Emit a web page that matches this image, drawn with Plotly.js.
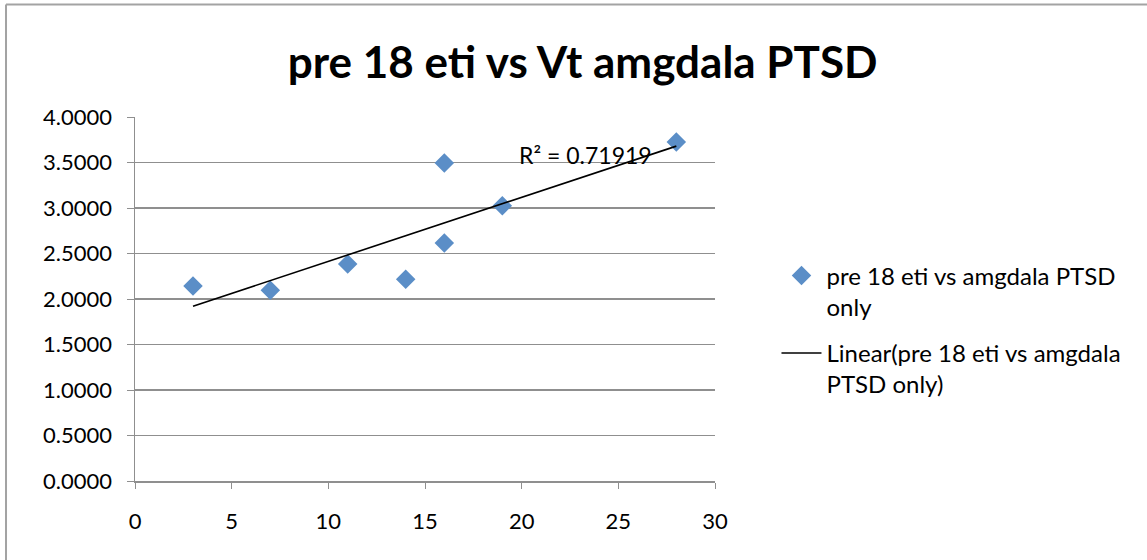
<!DOCTYPE html>
<html>
<head>
<meta charset="utf-8">
<script src="https://cdn.plot.ly/plotly-3.0.1.min.js"></script>
<style>html,body{margin:0;padding:0;background:#fff;} #chart{width:1147px;height:560px;}</style>
</head>
<body>
<div id="chart"></div>
<script>
// Data
const xValues = [3, 7, 11, 14, 16, 16, 19, 28];
const yValues = [2.143, 2.096, 2.385, 2.216, 3.495, 2.615, 3.025, 3.725];
const seriesName = 'pre 18 eti vs amgdala PTSD<br>only';
const trendName = 'Linear(pre 18 eti vs amgdala<br>PTSD only)';
const r2Label = 'R² = 0.71919';
const chartTitle = 'pre 18 eti vs Vt amgdala PTSD';
const yTickVals = [0, 0.5, 1, 1.5, 2, 2.5, 3, 3.5, 4];
const xTickVals = [0, 5, 10, 15, 20, 25, 30];

// Least-squares linear trend line computed from the data
const n = xValues.length;
const mx = xValues.reduce((a, b) => a + b, 0) / n;
const my = yValues.reduce((a, b) => a + b, 0) / n;
let sxy = 0, sxx = 0;
for (let i = 0; i < n; i++) { sxy += (xValues[i] - mx) * (yValues[i] - my); sxx += (xValues[i] - mx) ** 2; }
const slope = sxy / sxx, intercept = my - slope * mx;
const xMin = Math.min(...xValues), xMax = Math.max(...xValues);
const trendX = [xMin, xMax];
const trendY = trendX.map(x => intercept + slope * x);

const font = 'Lato, "Open Sans", sans-serif';
const gridColor = '#8f8f8f';

const traces = [
  {
    x: xValues, y: yValues, type: 'scatter', mode: 'markers', name: seriesName, legendgroup: 'a',
    marker: {symbol: 'diamond', size: 15, color: '#5b8ec7'}
  },
  {
    x: trendX, y: trendY, type: 'scatter', mode: 'lines', name: trendName, legendgroup: 'b',
    line: {color: '#000000', width: 1.6}
  }
];

const layout = {
  width: 1147, height: 560,
  margin: {l: 135, r: 432, t: 117, b: 79},
  paper_bgcolor: '#ffffff', plot_bgcolor: '#ffffff',
  showlegend: true,
  title: {
    text: '<b>' + chartTitle + '</b>',
    font: {family: font, size: 44, color: '#000'},
    xref: 'container', x: 0.508, xanchor: 'center',
    yref: 'container', y: 0.889, yanchor: 'middle'
  },
  xaxis: {
    range: [0, 30], tickvals: xTickVals, ticks: 'outside', ticklen: 6, tickcolor: gridColor,
    showgrid: false, zeroline: false, showline: true, linecolor: gridColor, linewidth: 1.5,
    tickfont: {family: font, size: 22, color: '#000'}, ticklabelstandoff: 14
  },
  yaxis: {
    range: [0, 4], tickvals: yTickVals, tickformat: '.4f', ticks: 'outside', ticklen: 7, tickcolor: gridColor,
    showgrid: true, gridcolor: gridColor, gridwidth: 1.5, zeroline: false,
    showline: true, linecolor: gridColor, linewidth: 1.5,
    tickfont: {family: font, size: 22, color: '#000'}, ticklabelstandoff: 10
  },
  legend: {
    x: 1.106, xanchor: 'left', y: 0.415, yanchor: 'middle', valign: 'top',
    font: {family: font, size: 24, color: '#000'},
    itemwidth: 40, tracegroupgap: 12, bgcolor: 'rgba(0,0,0,0)'
  },
  annotations: [{
    text: r2Label, x: 23.3, y: 3.58, xref: 'x', yref: 'y', showarrow: false,
    font: {family: font, size: 23, color: '#000'}
  }],
  shapes: [
    {type: 'line', xref: 'paper', yref: 'paper', x0: -0.2224, x1: 2.0, y0: 1.309, y1: 1.309, line: {color: '#a3a3a3', width: 2}},
    {type: 'line', xref: 'paper', yref: 'paper', x0: -0.2224, x1: -0.2224, y0: 1.309, y1: -0.4, line: {color: '#a3a3a3', width: 2}}
  ]
};

Plotly.newPlot('chart', traces, layout, {displayModeBar: false, staticPlot: true});
</script>
</body>
</html>
